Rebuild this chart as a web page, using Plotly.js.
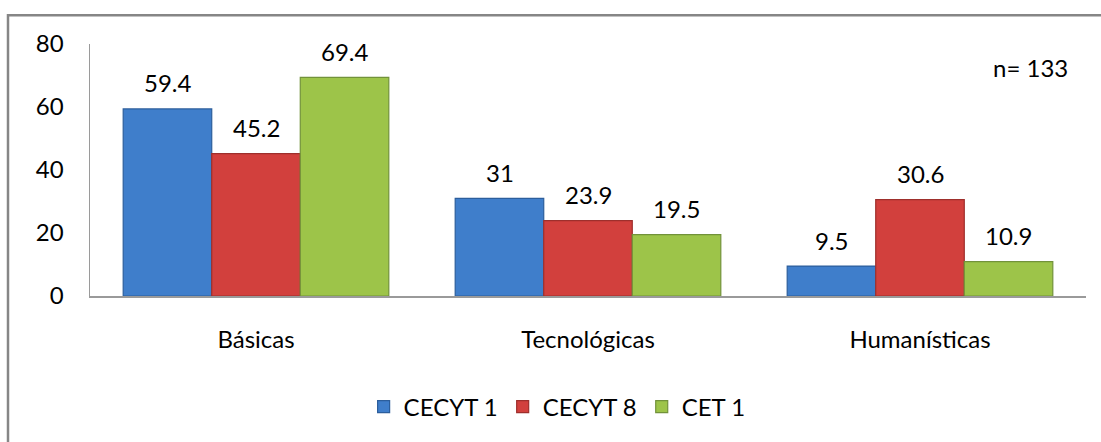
<!DOCTYPE html>
<html>
<head>
<meta charset="utf-8">
<script src="https://cdn.plot.ly/plotly-3.0.1.min.js"></script>
<style>html,body{margin:0;padding:0;background:#fff;}#chart{width:1101px;height:442px;}</style>
</head>
<body>
<div id="chart"></div>
<script>
const categories = ["Básicas", "Tecnológicas", "Humanísticas"];
const seriesNames = ["CECYT 1", "CECYT 8", "CET 1"];
const cecyt1 = [59.4, 31, 9.5];
const cecyt8 = [45.2, 23.9, 30.6];
const cet1 = [69.4, 19.5, 10.9];
const yTicks = [0, 20, 40, 60, 80];
const noteText = "n= 133";

const values = [cecyt1, cecyt8, cet1];
const fillColors = ["#3f7ecb", "#d2403d", "#9dc449"];
const lineColors = ["#2c5e9c", "#9e2f2c", "#72923a"];
const FONT = "Lato, 'Open Sans', sans-serif";
const FS = 24;

const traces = values.map((v, i) => ({
  type: "bar",
  name: seriesNames[i],
  x: categories,
  y: v,
  marker: { color: fillColors[i], line: { color: lineColors[i], width: 1.2 } },
  hoverinfo: "none"
}));

const barPx = 88.5;
const annotations = [];
values.forEach((v, i) => {
  v.forEach((val, j) => {
    annotations.push({
      x: categories[j], y: val, xref: "x", yref: "y",
      text: String(val), showarrow: false,
      xshift: (i - 1) * barPx, yshift: 26, yanchor: "middle",
      font: { family: FONT, size: FS, color: "#000" }
    });
  });
});
annotations.push({
  x: (1030 - 90) / 996, y: (298 - 68) / 254, xref: "paper", yref: "paper",
  text: noteText, showarrow: false, yanchor: "middle", xanchor: "center",
  font: { family: FONT, size: FS, color: "#000" }
});

const layout = {
  width: 1101, height: 442,
  margin: { l: 90, r: 15, t: 44, b: 144 },
  paper_bgcolor: "#fff", plot_bgcolor: "#fff",
  barmode: "group", bargap: 0.2, bargroupgap: 0,
  font: { family: FONT, size: FS, color: "#000" },
  xaxis: {
    showgrid: false, zeroline: false, showline: true, linecolor: "#9a9a9a", linewidth: 1.5,
    ticks: "", ticklabelstandoff: 22, tickfont: { family: FONT, size: FS, color: "#000" },
    fixedrange: true
  },
  yaxis: {
    range: [0, 80], tickvals: yTicks, showgrid: false, zeroline: false,
    showline: true, linecolor: "#9a9a9a", linewidth: 1.5,
    ticks: "", ticklabelstandoff: 20, tickfont: { family: FONT, size: FS, color: "#000" },
    fixedrange: true
  },
  showlegend: true,
  legend: {
    orientation: "h", x: 0.469, xanchor: "center", y: (298 - 410) / 254, yanchor: "middle",
    font: { family: FONT, size: FS, color: "#000" }, itemwidth: 30, tracegroupgap: 0,
    bgcolor: "rgba(0,0,0,0)"
  },
  annotations: annotations,
  shapes: [{
    type: "rect", xref: "paper", yref: "paper",
    x0: (8 - 90) / 996, x1: (1120 - 90) / 996,
    y0: (298 - 470) / 254, y1: (298 - 15) / 254,
    line: { color: "#868686", width: 2.5 }, fillcolor: "rgba(0,0,0,0)", layer: "below"
  }]
};

Plotly.newPlot("chart", traces, layout, { staticPlot: true, displayModeBar: false });
</script>
</body>
</html>
